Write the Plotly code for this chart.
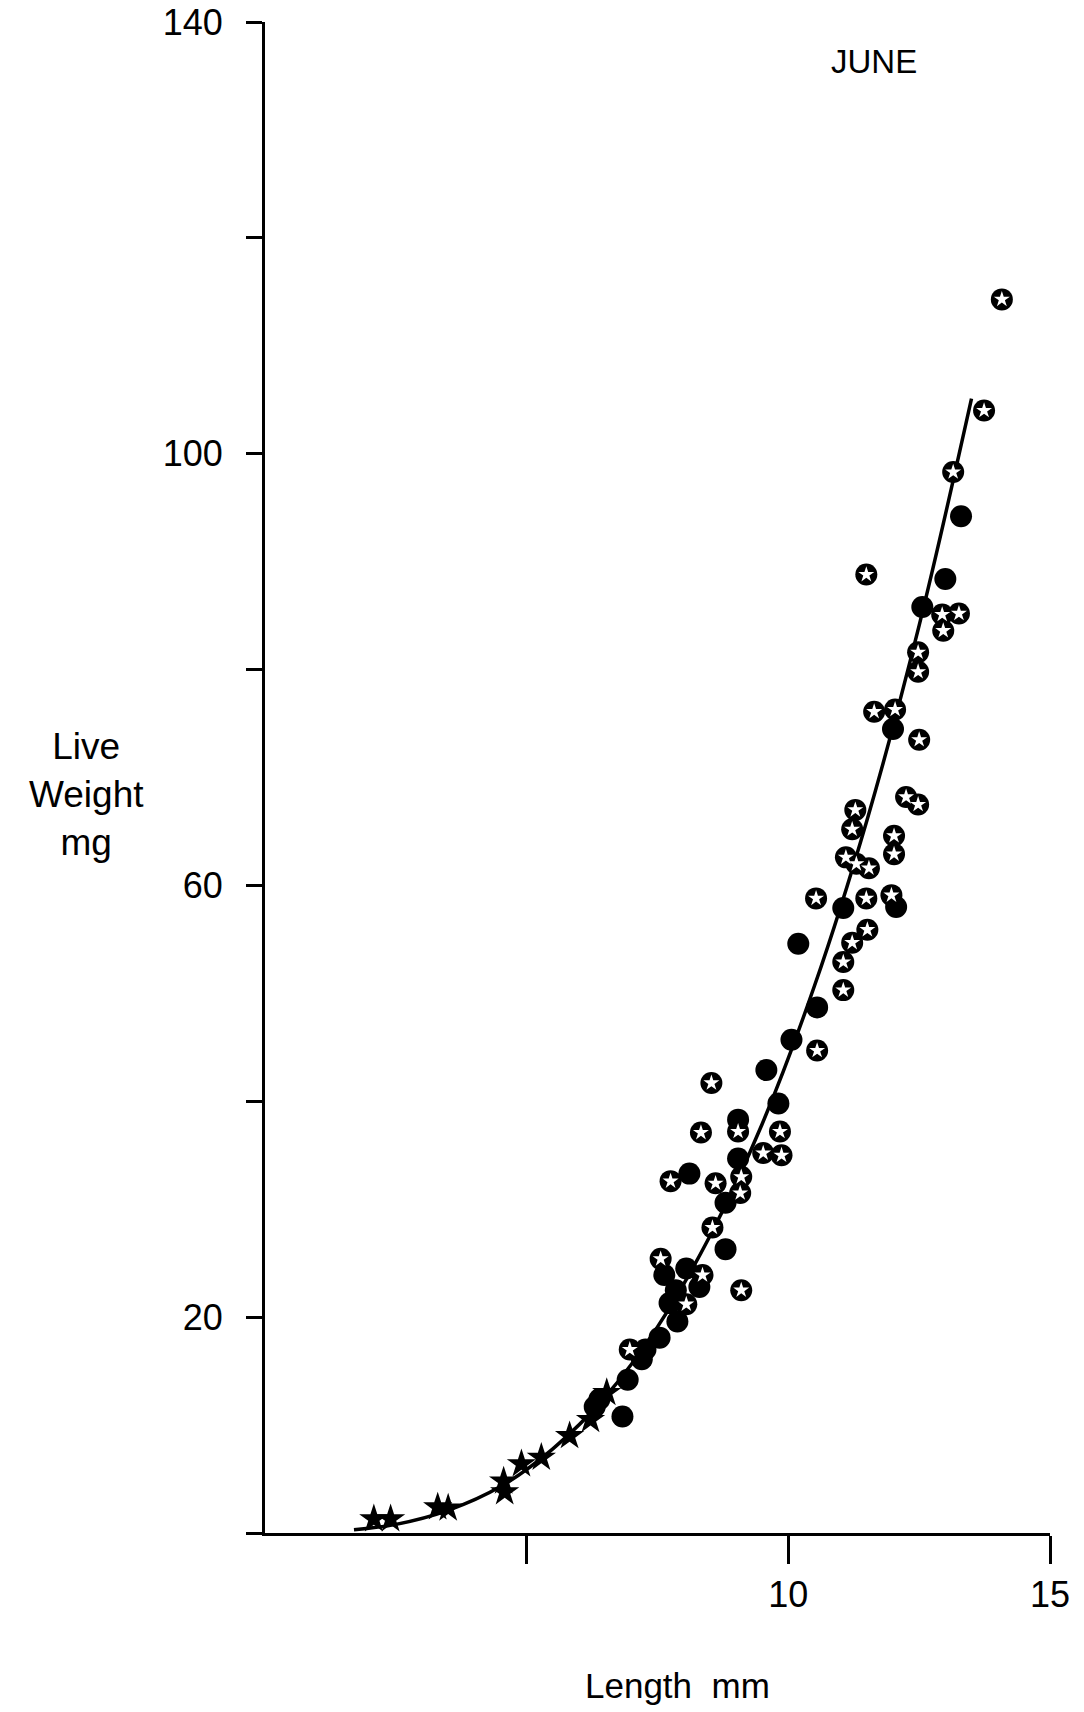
import plotly.graph_objects as go

# Ringed-star points (black disc with white star)
ring_len = [14.08, 13.74, 13.15, 11.49, 12.94, 13.26, 12.96, 12.48, 12.48, 11.64,
            12.04, 12.50, 12.25, 12.48, 11.28, 11.22, 12.02, 12.02, 11.10, 11.30,
            11.54, 11.97, 11.49, 10.53, 11.51, 11.22, 11.05, 11.05, 10.55, 8.53,
            9.04, 8.33, 9.84, 9.52, 9.87, 8.61, 9.10, 9.08, 7.75, 8.55,
            9.10, 7.56, 8.36, 8.05, 6.97]
ring_wt = [114.3, 104.0, 98.3, 88.8, 85.1, 85.2, 83.6, 81.6, 79.8, 76.1,
           76.3, 73.5, 68.2, 67.5, 67.0, 65.2, 64.6, 62.9, 62.6, 62.0,
           61.6, 59.1, 58.8, 58.8, 55.9, 54.7, 52.9, 50.3, 44.7, 41.7,
           37.2, 37.1, 37.2, 35.2, 35.0, 32.4, 33.0, 31.5, 32.6, 28.3,
           22.5, 25.4, 23.9, 21.2, 17.0]

# Filled circle points
dot_len = [13.30, 13.00, 12.56, 12.00, 12.06, 11.05, 10.19, 10.55, 10.06, 9.58,
           9.81, 9.04, 9.04, 8.11, 8.80, 8.80, 8.05, 7.63, 8.30, 7.85,
           7.73, 7.88, 7.54, 7.27, 7.20, 6.93, 6.83, 6.30, 6.39]
dot_wt = [94.2, 88.4, 85.8, 74.5, 58.0, 57.9, 54.6, 48.7, 45.7, 42.9,
          39.8, 38.3, 34.7, 33.3, 30.6, 26.3, 24.5, 23.9, 22.8, 22.5,
          21.3, 19.6, 18.1, 17.0, 16.1, 14.2, 10.8, 11.7, 12.4]

# Solid star points (small animals)
star_len = [2.08, 2.40, 3.30, 3.50, 4.56, 4.58, 4.90, 5.28, 5.82, 6.22, 6.53]
star_wt = [1.3, 1.3, 2.4, 2.3, 4.8, 3.8, 6.4, 7.0, 9.0, 10.5, 13.0]

# Fitted curve
curve_len = [1.7, 2.5, 3.5, 4.5, 5.5, 6.5, 7.5, 8.5, 9.5, 10.5, 11.5, 12.5, 13.5]
curve_wt = [0.3, 0.8, 2.1, 4.3, 7.8, 12.6, 19.1, 27.5, 37.9, 50.7, 66.0, 84.1, 105.1]

y_ticks = [0, 20, 40, 60, 80, 100, 120, 140]
y_ticktext = ["", "20", "", "60", "", "100", "", "140"]
x_ticks = [5, 10, 15]
x_ticktext = ["", "10", "15"]

FONT = "Liberation Sans"

fig = go.Figure()

fig.add_trace(go.Scatter(x=curve_len, y=curve_wt, mode="lines",
                         line=dict(color="black", width=3.5, shape="spline"),
                         hoverinfo="skip", showlegend=False))

fig.add_trace(go.Scatter(x=star_len, y=star_wt, mode="markers",
                         marker=dict(symbol="star", size=22, color="black"),
                         showlegend=False, cliponaxis=False))

fig.add_trace(go.Scatter(x=dot_len, y=dot_wt, mode="markers",
                         marker=dict(symbol="circle", size=22, color="black"),
                         showlegend=False, cliponaxis=False))

fig.add_trace(go.Scatter(x=ring_len, y=ring_wt, mode="markers",
                         marker=dict(symbol="circle", size=22, color="black"),
                         showlegend=False, cliponaxis=False))
fig.add_trace(go.Scatter(x=ring_len, y=ring_wt, mode="markers",
                         marker=dict(symbol="star", size=12, color="white",
                                     line=dict(width=0)),
                         showlegend=False, cliponaxis=False))

fig.update_layout(
    width=1084, height=1712,
    margin=dict(l=265, r=34, t=22, b=179),
    plot_bgcolor="white", paper_bgcolor="white",
    font=dict(family=FONT, color="black", size=36),
    xaxis=dict(range=[0, 15], showgrid=False, zeroline=False, automargin=False,
               showline=True, linecolor="black", linewidth=3,
               ticks="outside", ticklen=28, tickwidth=3, tickcolor="black",
               tickvals=x_ticks, ticktext=x_ticktext, ticklabeloverflow="allow",
               tickfont=dict(size=36, family=FONT), ticklabelstandoff=0),
    yaxis=dict(range=[0, 140], showgrid=False, zeroline=False, automargin=False,
               showline=True, linecolor="black", linewidth=3,
               ticks="outside", ticklen=16, tickwidth=3, tickcolor="black",
               tickvals=y_ticks, ticktext=y_ticktext, ticklabeloverflow="allow",
               tickfont=dict(size=36, family=FONT), ticklabelstandoff=16),
    annotations=[
        dict(text="JUNE", x=11.63, y=136.3, xref="x", yref="y",
             xanchor="center", yanchor="middle",
             showarrow=False, font=dict(size=33, family=FONT)),
        dict(text="Live<br>Weight<br>mg", x=-0.2268, y=0.489,
             xref="paper", yref="paper", xanchor="center", yanchor="middle",
             showarrow=False, align="center",
             font=dict(size=37, family=FONT)),
        dict(text="Length  mm", x=0.526, y=-0.1006, xref="paper", yref="paper",
             xanchor="center", yanchor="middle",
             showarrow=False, font=dict(size=35, family=FONT)),
    ],
)

fig.write_html("out.html",
               config={"displayModeBar": False},
               post_script="document.body.style.margin='0';document.body.style.padding='0';")
